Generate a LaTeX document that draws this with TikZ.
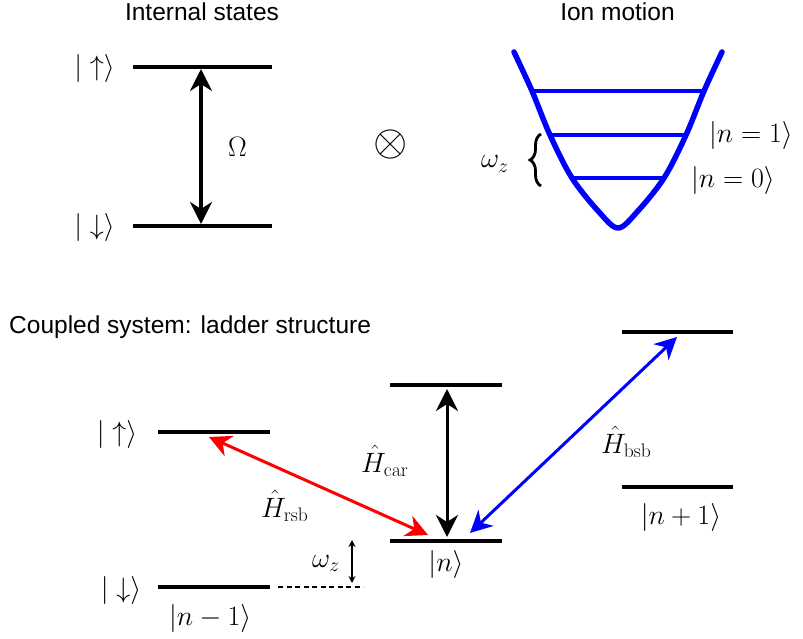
\RequirePackage{fix-cm}
\documentclass[tikz,border=0pt]{standalone}
\usepackage[no-math]{fontspec}
\newfontfamily\arialfont{Liberation Sans}
\usetikzlibrary{arrows.meta,decorations.pathreplacing}
\tikzset{
  lvl/.style={line width=4pt},
  blvl/.style={line width=3.5pt, blue},
  txt/.style={font=\arialfont\fontsize{24.5}{28}\selectfont, inner sep=0pt},
  mth/.style={font=\fontsize{28}{32}\selectfont, inner sep=0pt},
  bigtip/.tip={Stealth[length=22pt,width=22pt,inset=7pt]},
  bigarr/.style={line width=3.5pt, bigtip-bigtip},
  midarr/.style={line width=3pt, bigtip-bigtip},
  smallarr/.style={line width=1.6pt, {Stealth[length=7pt,width=7pt]}-{Stealth[length=7pt,width=7pt]}},
}
\begin{document}
\begin{tikzpicture}[x=1pt,y=-1pt]
\useasboundingbox (0,0) rectangle (803,639);
% titles
\node[txt, anchor=base] (t1) at (202,21) {Internal states};
\node[txt, anchor=base] (t2) at (617.5,21) {Ion motion};
\node[txt, anchor=base west] (t3) at (9,333) {Coupled system: ladder structure};
% internal states
\coordinate (u1) at (133,67); \coordinate (u2) at (272,67);
\coordinate (d1) at (133,226); \coordinate (d2) at (272,226);
\draw[lvl] (u1) -- (u2);
\draw[lvl] (d1) -- (d2);
\node[mth] (lu) at (94.5,69) {$|\uparrow\rangle$};
\node[mth] (ld) at (94.5,227) {$|\downarrow\rangle$};
\coordinate (oa) at (201,69); \coordinate (ob) at (201,224);
\draw[bigarr] (oa) -- (ob);
\node[mth] (om) at (237.5,147) {$\Omega$};
\node[font=\fontsize{44}{48}\selectfont, inner sep=0pt] (ox) at (391,145) {$\otimes$};
% ion motion
\draw[blue, line width=5.5pt, line join=round, line cap=round] plot[smooth, tension=0.55] coordinates {(514,52) (532,91) (550,135) (572,178) (599,212) (618,228) (637,212) (664,178) (686,135) (704,91) (722,52)};
\draw[blvl] (532,91) -- (706,91);
\draw[blvl] (550,135) -- (686,135);
\draw[blvl] (572,178) -- (665,178);
\node[mth, anchor=base west] (n1) at (709,143) {$|n=1\rangle$};
\node[mth, anchor=base west] (n0) at (691,188) {$|n=0\rangle$};
\node[mth, anchor=base west] (wz1) at (481,168) {$\omega_z$};
\coordinate (bb) at (541,186); \coordinate (bt) at (541,134);
\draw[decorate, decoration={brace, amplitude=11pt}, line width=2.8pt] (bb) -- (bt);
% coupled system
\coordinate (lu1) at (158,432); \coordinate (lu2) at (270,432);
\coordinate (ld1) at (158,587); \coordinate (ld2) at (270,587);
\coordinate (ds1) at (278,587); \coordinate (ds2) at (363,587);
\draw[lvl] (lu1) -- (lu2);
\draw[lvl] (ld1) -- (ld2);
\draw[line width=2pt, dash pattern=on 5pt off 3.5pt] (ds1) -- (ds2);
\node[mth] (blu) at (117,434) {$|\uparrow\rangle$};
\node[mth] (bld) at (121,590) {$|\downarrow\rangle$};
\node[mth, anchor=base west] (nm1) at (169,625) {$|n-1\rangle$};
\coordinate (wa) at (352,540); \coordinate (wb) at (352,583);
\draw[smallarr] (wa) -- (wb);
\node[mth, anchor=base west] (wz2) at (312,567) {$\omega_z$};
\coordinate (cu1) at (390,385); \coordinate (cu2) at (502,385);
\coordinate (cd1) at (390,541); \coordinate (cd2) at (502,541);
\draw[lvl] (cu1) -- (cu2);
\draw[lvl] (cd1) -- (cd2);
\coordinate (ca) at (447,389); \coordinate (cb) at (447,537);
\draw[midarr] (ca) -- (cb);
\node[mth, anchor=base west] (hcar) at (361,472) {$\hat{H}_{\mathrm{car}}$};
\node[mth, anchor=base] (nn) at (446,571) {$|n\rangle$};
\coordinate (ru1) at (622,332); \coordinate (ru2) at (733,332);
\coordinate (rd1) at (622,487); \coordinate (rd2) at (733,487);
\draw[lvl] (ru1) -- (ru2);
\draw[lvl] (rd1) -- (rd2);
\node[mth, anchor=base] (np1) at (681,524) {$|n+1\rangle$};
\coordinate (bsa) at (470,533); \coordinate (bsb) at (677,337);
\draw[midarr, blue] (bsa) -- (bsb);
\node[mth, anchor=base west] (hbsb) at (601,453) {$\hat{H}_{\mathrm{bsb}}$};
\coordinate (rsa) at (209,437); \coordinate (rsb) at (428,535);
\draw[midarr, red] (rsa) -- (rsb);
\node[mth, anchor=base west] (hrsb) at (261,517) {$\hat{H}_{\mathrm{rsb}}$};
\end{tikzpicture}
\end{document}
